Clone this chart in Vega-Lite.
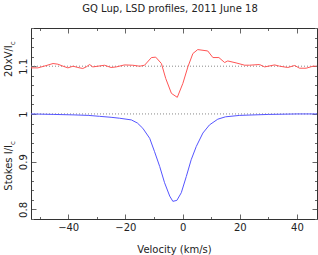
{
  "$schema": "https://vega.github.io/schema/vega-lite/v6.json",
  "width": 286,
  "height": 191,
  "autosize": {"type": "none"},
  "padding": {"left": 31, "top": 28, "right": 1, "bottom": 36},
  "title": {"text": "GQ Lup, LSD profiles, 2011 June 18", "font": "DejaVu Sans", "fontSize": 10, "fontWeight": "normal", "color": "#222", "anchor": "middle", "offset": 14, "dx": -4},
  "config": {
    "view": {"stroke": null},
    "axis": {"labelFont": "DejaVu Sans", "labelFontSize": 10, "labelColor": "#222", "titleFont": "DejaVu Sans", "titleFontSize": 10, "titleFontWeight": "normal", "titleColor": "#222", "domainColor": "#333", "tickColor": "#666", "grid": false}
  },
  "datasets": {
    "stokesI": [
      {"v": -53, "I": 1.0}, {"v": -45, "I": 0.999}, {"v": -38, "I": 0.998}, {"v": -33, "I": 0.997},
      {"v": -29, "I": 0.995}, {"v": -25, "I": 0.993}, {"v": -22, "I": 0.991}, {"v": -17.9, "I": 0.9875},
      {"v": -15.8, "I": 0.981}, {"v": -13.9, "I": 0.97}, {"v": -11.5, "I": 0.949}, {"v": -9.8, "I": 0.921},
      {"v": -8.0, "I": 0.89}, {"v": -6.3, "I": 0.856}, {"v": -4.5, "I": 0.828}, {"v": -3.4, "I": 0.817},
      {"v": -2.0, "I": 0.819}, {"v": -0.45, "I": 0.835}, {"v": 1.3, "I": 0.869}, {"v": 3.0, "I": 0.904},
      {"v": 4.8, "I": 0.932}, {"v": 7.1, "I": 0.96}, {"v": 9.4, "I": 0.977}, {"v": 12.3, "I": 0.989},
      {"v": 15, "I": 0.994}, {"v": 20, "I": 0.997}, {"v": 30, "I": 0.999}, {"v": 40, "I": 1.0}, {"v": 47, "I": 1.0}
    ],
    "stokesV": [
      {"v": -53, "V": 1.0965}, {"v": -50.6, "V": 1.0965}, {"v": -48.1, "V": 1.1006}, {"v": -45.3, "V": 1.1056},
      {"v": -43.6, "V": 1.1042}, {"v": -41.8, "V": 1.1}, {"v": -40.1, "V": 1.0965}, {"v": -38.3, "V": 1.1},
      {"v": -36.6, "V": 1.0973}, {"v": -34.9, "V": 1.0952}, {"v": -33.7, "V": 1.0985}, {"v": -32.5, "V": 1.1035},
      {"v": -31.4, "V": 1.0985}, {"v": -29.6, "V": 1.1}, {"v": -27.3, "V": 1.102}, {"v": -25, "V": 1.0973},
      {"v": -23.2, "V": 1.0985}, {"v": -20.3, "V": 1.1027}, {"v": -17.4, "V": 1.102}, {"v": -15, "V": 1.1},
      {"v": -13.3, "V": 1.102}, {"v": -10.9, "V": 1.118}, {"v": -9.4, "V": 1.119}, {"v": -7.4, "V": 1.1056},
      {"v": -5.9, "V": 1.0744}, {"v": -3.9, "V": 1.0431}, {"v": -1.85, "V": 1.0348}, {"v": 0.1, "V": 1.064},
      {"v": 1.85, "V": 1.0985}, {"v": 3.6, "V": 1.1265}, {"v": 5.3, "V": 1.1348}, {"v": 8.8, "V": 1.1319},
      {"v": 10.6, "V": 1.1181}, {"v": 12.7, "V": 1.1181}, {"v": 14.7, "V": 1.1077}, {"v": 15.8, "V": 1.111},
      {"v": 18.7, "V": 1.1069}, {"v": 21.7, "V": 1.1021}, {"v": 23.4, "V": 1.1021}, {"v": 26.9, "V": 1.1035},
      {"v": 28.7, "V": 1.0985}, {"v": 32.2, "V": 1.1027}, {"v": 33.9, "V": 1.1}, {"v": 36.8, "V": 1.0973},
      {"v": 39.2, "V": 1.1015}, {"v": 40.9, "V": 1.0958}, {"v": 43.2, "V": 1.0958}, {"v": 45.6, "V": 1.1}, {"v": 46.8, "V": 1.1}
    ]
  },
  "layer": [
    {
      "data": {"values": [{"y": 1.1}, {"y": 1.0}]},
      "mark": {"type": "rule", "color": "#888", "strokeDash": [1, 2], "strokeWidth": 1},
      "encoding": {
        "y": {"field": "y", "type": "quantitative", "scale": {"domain": [0.78, 1.18], "nice": false, "zero": false}, "axis": null}
      }
    },
    {
      "data": {"name": "stokesI"},
      "mark": {"type": "line", "color": "#5555ff", "strokeWidth": 1},
      "encoding": {
        "x": {"field": "v", "type": "quantitative", "scale": {"domain": [-53, 47], "nice": false, "zero": false},
          "axis": {"orient": "bottom", "values": [-50, -40, -30, -20, -10, 0, 10, 20, 30, 40],
            "tickSize": {"condition": {"test": "datum.value % 20 === 0", "value": -5}, "value": -2.5},
            "labelExpr": "datum.value % 20 === 0 ? datum.label : ''", "labelPadding": 8, "labelFlush": false,
            "title": "Velocity (km/s)", "titlePadding": 12}},
        "y": {"field": "I", "type": "quantitative", "scale": {"domain": [0.78, 1.18], "nice": false, "zero": false},
          "axis": {"orient": "left", "values": [0.78, 0.8, 0.82, 0.84, 0.86, 0.88, 0.9, 0.92, 0.94, 0.96, 0.98, 1.0, 1.02, 1.04, 1.06, 1.08, 1.1, 1.12, 1.14, 1.16, 1.18],
            "tickSize": {"condition": {"test": "abs(datum.value*10 - round(datum.value*10)) < 1e-6", "value": -5}, "value": -2.5},
            "labelExpr": "abs(datum.value*10 - round(datum.value*10)) < 1e-6 ? format(datum.value, '~g') : ''",
            "labelAngle": -90, "labelAlign": "center", "labelBaseline": "bottom", "labelPadding": 8, "labelFlush": false, "title": null}}
      }
    },
    {
      "data": {"name": "stokesV"},
      "mark": {"type": "line", "color": "#ff5555", "strokeWidth": 1},
      "encoding": {
        "x": {"field": "v", "type": "quantitative", "scale": {"domain": [-53, 47], "nice": false, "zero": false},
          "axis": {"orient": "top", "values": [-50, -40, -30, -20, -10, 0, 10, 20, 30, 40],
            "tickSize": {"condition": {"test": "datum.value % 20 === 0", "value": -5}, "value": -2.5},
            "labels": false, "title": null}},
        "y": {"field": "V", "type": "quantitative", "scale": {"domain": [0.78, 1.18], "nice": false, "zero": false},
          "axis": {"orient": "right", "values": [0.78, 0.8, 0.82, 0.84, 0.86, 0.88, 0.9, 0.92, 0.94, 0.96, 0.98, 1.0, 1.02, 1.04, 1.06, 1.08, 1.1, 1.12, 1.14, 1.16, 1.18],
            "tickSize": {"condition": {"test": "abs(datum.value*10 - round(datum.value*10)) < 1e-6", "value": -5}, "value": -2.5},
            "labels": false, "title": null}}
      }
    },
    {
      "data": {"values": [{"v": -59.6, "y": 0.935, "t": "Stokes I/I"}, {"v": -59.6, "y": 1.144, "t": "20xV/I"}]},
      "mark": {"type": "text", "angle": 270, "align": "right", "baseline": "alphabetic", "font": "DejaVu Sans", "fontSize": 10, "color": "#222"},
      "encoding": {
        "x": {"field": "v", "type": "quantitative", "scale": {"domain": [-53, 47], "nice": false, "zero": false}, "axis": null},
        "y": {"field": "y", "type": "quantitative", "scale": {"domain": [0.78, 1.18], "nice": false, "zero": false}, "axis": null},
        "text": {"field": "t"}
      }
    },
    {
      "data": {"values": [{"v": -59.6, "y": 0.935, "t": "c"}, {"v": -59.6, "y": 1.144, "t": "c"}]},
      "mark": {"type": "text", "angle": 270, "align": "left", "baseline": "alphabetic", "dy": 2.5, "font": "DejaVu Sans", "fontSize": 7, "color": "#222"},
      "encoding": {
        "x": {"field": "v", "type": "quantitative", "scale": {"domain": [-53, 47], "nice": false, "zero": false}, "axis": null},
        "y": {"field": "y", "type": "quantitative", "scale": {"domain": [0.78, 1.18], "nice": false, "zero": false}, "axis": null},
        "text": {"field": "t"}
      }
    }
  ],
  "resolve": {"axis": {"x": "independent", "y": "independent"}}
}
